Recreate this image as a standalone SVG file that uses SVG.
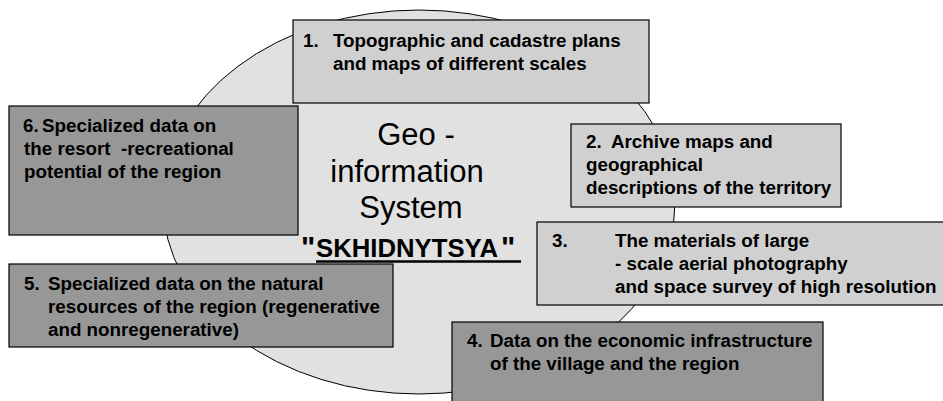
<svg xmlns="http://www.w3.org/2000/svg" width="943" height="401" viewBox="0 0 943 401">
<style>
.bg{fill:#ffffff}
.core{fill:#e1e1e1;stroke:#000;stroke-width:1}
.lt{fill:#d0d0d0;stroke:#000;stroke-width:1.2}
.dk{fill:#979797;stroke:#000;stroke-width:1.2}
.t{font-family:"Liberation Sans",Arial,sans-serif;font-weight:bold;font-size:18.8px;fill:#000;white-space:pre}
.c{font-family:"Liberation Sans",Arial,sans-serif;font-size:31px;fill:#000;text-anchor:middle}
.q{font-family:"Liberation Sans",Arial,sans-serif;font-weight:bold;fill:#000}
</style>
<rect class="bg" x="0" y="0" width="943" height="401"/>
<g id="connectors"></g>
<g id="core">
<ellipse class="core" cx="419" cy="202" rx="256" ry="192"/>
<text class="c" x="416" y="145">Geo -</text>
<text class="c" x="407" y="182">information</text>
<text class="c" x="411" y="218">System</text>
<text class="q" x="301" y="257" font-size="30">"</text>
<text class="q" x="316" y="257" font-size="25" textLength="182" lengthAdjust="spacingAndGlyphs">SKHIDNYTSYA</text>
<text class="q" x="501" y="257" font-size="30">"</text>
<line x1="316" y1="261.5" x2="521" y2="261.5" stroke="#000" stroke-width="2.5"/>
</g>
<g id="n1">
<rect class="lt" x="293" y="20" width="356" height="83"/>
<text class="t" y="47"><tspan x="303">1.</tspan><tspan x="333">Topographic and cadastre plans</tspan></text>
<text class="t" x="333" y="70">and maps of different scales</text>
</g>
<g id="n2">
<rect class="lt" x="571" y="124" width="270" height="83"/>
<text class="t" y="148"><tspan x="586">2.</tspan><tspan x="611">Archive maps and</tspan></text>
<text class="t" x="586" y="171">geographical</text>
<text class="t" x="586" y="194">descriptions of the territory</text>
</g>
<g id="n3">
<rect class="lt" x="537" y="222" width="410" height="83"/>
<text class="t" y="247"><tspan x="552">3.</tspan><tspan x="615">The materials of large</tspan></text>
<text class="t" x="615" y="270">- scale aerial photography</text>
<text class="t" x="615" y="293">and space survey of high resolution</text>
</g>
<g id="n4">
<rect class="dk" x="452" y="322" width="371" height="85"/>
<text class="t" y="347"><tspan x="467">4.</tspan><tspan x="490">Data on the economic infrastructure</tspan></text>
<text class="t" x="490" y="370">of the village and the region</text>
</g>
<g id="n5">
<rect class="dk" x="9" y="264" width="384" height="83"/>
<text class="t" y="290"><tspan x="24">5.</tspan><tspan x="48">Specialized data on the natural</tspan></text>
<text class="t" x="48" y="313">resources of the region (regenerative</text>
<text class="t" x="48" y="336">and nonregenerative)</text>
</g>
<g id="n6">
<rect class="dk" x="9" y="106" width="289" height="129"/>
<text class="t" y="132"><tspan x="23">6.</tspan><tspan x="42">Specialized data on</tspan></text>
<text class="t" x="24" y="155">the resort  -recreational</text>
<text class="t" x="24" y="178">potential of the region</text>
</g>
</svg>
